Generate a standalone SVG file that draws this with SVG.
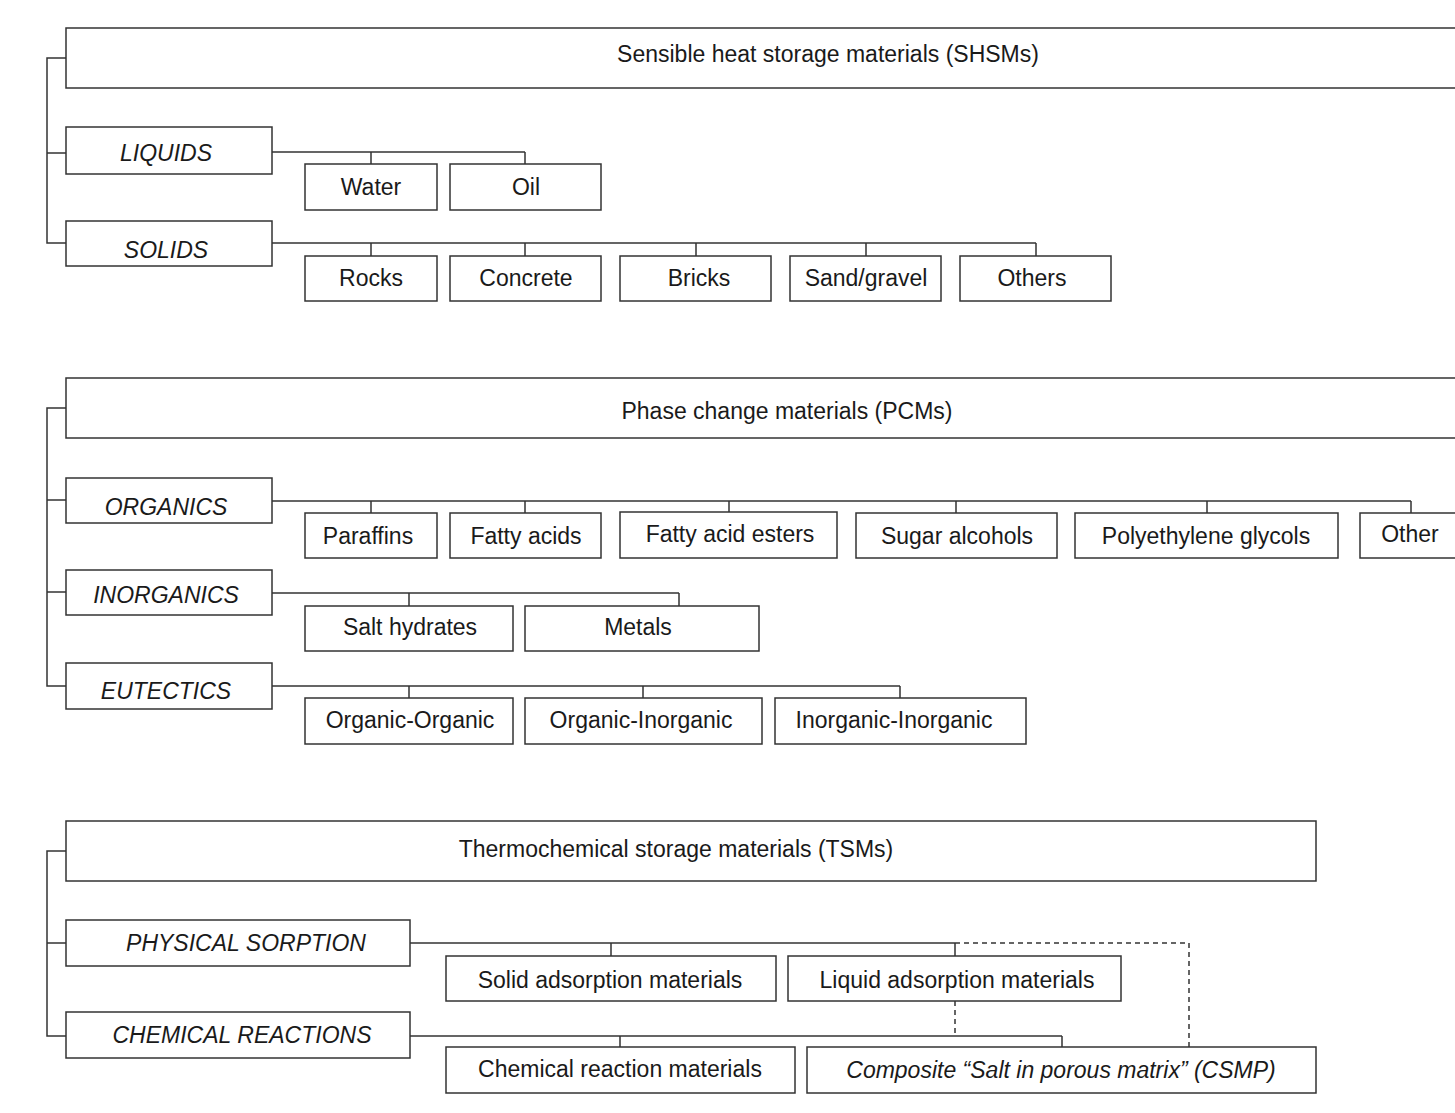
<svg xmlns="http://www.w3.org/2000/svg" width="1455" height="1113" viewBox="0 0 1455 1113">
<style>
rect{fill:#fff;stroke:#333;stroke-width:1.5}
text{font-family:"Liberation Sans",Arial,sans-serif;font-size:23px;fill:#1a1a1a;text-anchor:middle;dominant-baseline:central}
.i{font-style:italic}
#conn path{fill:none;stroke:#333;stroke-width:1.5}
#conn .d{stroke-dasharray:5,4}
</style>
<rect x="0" y="0" width="1455" height="1113" style="stroke:none"/>
<g id="conn">
<path d="M66,58H47V243H66M47,153H66"/>
<path d="M272,152H525M371,152V164M525,152V164"/>
<path d="M272,243H1036M371,243V256M525,243V256M696,243V256M866,243V256M1036,243V256"/>
<path d="M66,408H47V686H66M47,500H66M47,592H66"/>
<path d="M272,501H1411M371,501V513M525,501V513M729,501V513M956,501V513M1207,501V513M1411,501V513"/>
<path d="M272,593H679M409,593V606M679,593V606"/>
<path d="M272,686H900M409,686V698M643,686V698M900,686V698"/>
<path d="M66,851H47V1036H66M47,943H66"/>
<path d="M410,943H955M611,943V956M955,943V956"/>
<path class="d" d="M955,943H1189V1047M955,1001V1036"/>
<path d="M410,1036H1062M620,1036V1047M1062,1036V1047"/>
</g>
<g id="shsm"><rect x="66" y="28" width="1400" height="60"/><text x="828" y="54">Sensible heat storage materials (SHSMs)</text></g>
<g id="liquids"><rect x="66" y="127" width="206" height="47"/><text class="i" x="166" y="153">LIQUIDS</text></g>
<g id="water"><rect x="305" y="164" width="132" height="46"/><text x="371" y="187">Water</text></g>
<g id="oil"><rect x="450" y="164" width="151" height="46"/><text x="526" y="187">Oil</text></g>
<g id="solids"><rect x="66" y="221" width="206" height="45"/><text class="i" x="166" y="250">SOLIDS</text></g>
<g id="rocks"><rect x="305" y="256" width="132" height="45"/><text x="371" y="278">Rocks</text></g>
<g id="concrete"><rect x="450" y="256" width="151" height="45"/><text x="526" y="278">Concrete</text></g>
<g id="bricks"><rect x="620" y="256" width="151" height="45"/><text x="699" y="278">Bricks</text></g>
<g id="sand"><rect x="790" y="256" width="151" height="45"/><text x="866" y="278">Sand/gravel</text></g>
<g id="others"><rect x="960" y="256" width="151" height="45"/><text x="1032" y="278">Others</text></g>
<g id="pcm"><rect x="66" y="378" width="1400" height="60"/><text x="787" y="411">Phase change materials (PCMs)</text></g>
<g id="organics"><rect x="66" y="478" width="206" height="45"/><text class="i" x="166" y="507">ORGANICS</text></g>
<g id="paraffins"><rect x="305" y="513" width="132" height="45"/><text x="368" y="536">Paraffins</text></g>
<g id="fatty"><rect x="450" y="513" width="151" height="45"/><text x="526" y="536">Fatty acids</text></g>
<g id="esters"><rect x="620" y="512" width="217" height="46"/><text x="730" y="534">Fatty acid esters</text></g>
<g id="sugar"><rect x="856" y="513" width="201" height="45"/><text x="957" y="536">Sugar alcohols</text></g>
<g id="peg"><rect x="1075" y="513" width="263" height="45"/><text x="1206" y="536">Polyethylene glycols</text></g>
<g id="other"><rect x="1360" y="513" width="110" height="45"/><text x="1410" y="534">Other</text></g>
<g id="inorganics"><rect x="66" y="570" width="206" height="45"/><text class="i" x="166" y="595">INORGANICS</text></g>
<g id="salt"><rect x="305" y="606" width="208" height="45"/><text x="410" y="627">Salt hydrates</text></g>
<g id="metals"><rect x="525" y="606" width="234" height="45"/><text x="638" y="627">Metals</text></g>
<g id="eutectics"><rect x="66" y="663" width="206" height="46"/><text class="i" x="166" y="691">EUTECTICS</text></g>
<g id="oo"><rect x="305" y="698" width="208" height="46"/><text x="410" y="720">Organic-Organic</text></g>
<g id="oi"><rect x="525" y="698" width="237" height="46"/><text x="641" y="720">Organic-Inorganic</text></g>
<g id="ii"><rect x="775" y="698" width="251" height="46"/><text x="894" y="720">Inorganic-Inorganic</text></g>
<g id="tsm"><rect x="66" y="821" width="1250" height="60"/><text x="676" y="849">Thermochemical storage materials (TSMs)</text></g>
<g id="phys"><rect x="66" y="920" width="344" height="46"/><text class="i" x="246" y="943">PHYSICAL SORPTION</text></g>
<g id="solidads"><rect x="446" y="956" width="330" height="45"/><text x="610" y="980">Solid adsorption materials</text></g>
<g id="liquidads"><rect x="788" y="956" width="333" height="45"/><text x="957" y="980">Liquid adsorption materials</text></g>
<g id="chem"><rect x="66" y="1012" width="344" height="46"/><text class="i" x="242" y="1035">CHEMICAL REACTIONS</text></g>
<g id="chemmat"><rect x="446" y="1047" width="349" height="46"/><text x="620" y="1069">Chemical reaction materials</text></g>
<g id="csmp"><rect x="807" y="1047" width="509" height="46"/><text class="i" x="1061" y="1070">Composite “Salt in porous matrix” (CSMP)</text></g>
</svg>
